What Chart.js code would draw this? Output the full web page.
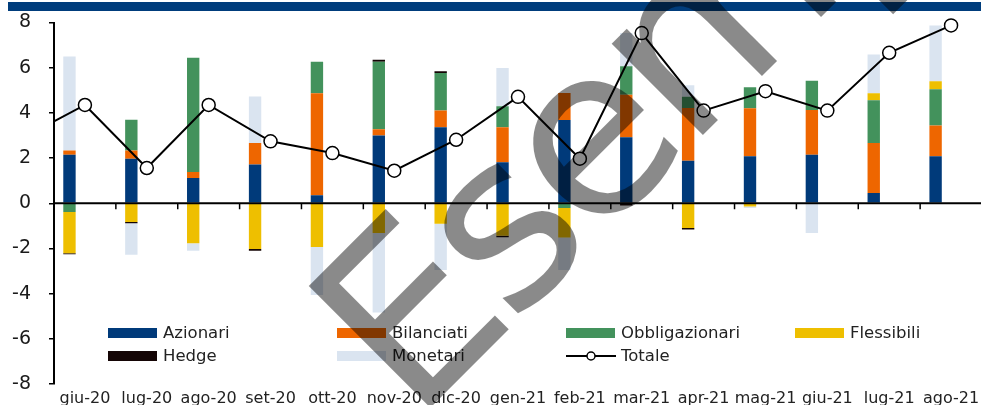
<!DOCTYPE html>
<html>
<head>
<meta charset="utf-8">
<script src="https://cdn.jsdelivr.net/npm/chart.js@4.4.1/dist/chart.umd.min.js"></script>
<style>
html, body { margin: 0; padding: 0; background: #fff; overflow: hidden; width: 981px; height: 405px; }
#band { position: absolute; left: 8px; top: 2px; width: 980px; height: 9px; background: #003d7c; }
#wrap { position: absolute; left: 0; top: 0; width: 990px; height: 412px; }
</style>
</head>
<body>
<div id="band"></div>
<div id="wrap"><canvas id="chart"></canvas></div>
<script>
// ================================
// DATA
// ================================
const months = ["giu-20", "lug-20", "ago-20", "set-20", "ott-20", "nov-20", "dic-20", "gen-21",
                "feb-21", "mar-21", "apr-21", "mag-21", "giu-21", "lug-21", "ago-21"];

const azionari       = [2.15, 1.97, 1.12, 1.72, 0.35, 3.00, 3.36, 1.81, 3.69, 2.92, 1.88, 2.08, 2.15, 0.45, 2.08];
const bilanciati     = [0.18, 0.36, 0.26, 0.95, 4.52, 0.27, 0.75, 1.55, 1.19, 1.88, 2.34, 2.12, 1.98, 2.22, 1.36];
const obbligazionari = [-0.39, 1.37, 5.06, 0, 1.39, 2.99, 1.66, 0.93, -0.21, 1.26, 0.49, 0.93, 1.29, 1.89, 1.61];
const flessibili     = [-1.82, -0.83, -1.77, -2.03, -1.94, -1.32, -0.91, -1.44, -1.31, 0, -1.10, -0.14, 0, 0.31, 0.35];
const hedge          = [-0.05, -0.05, 0, -0.07, 0, 0.09, 0.07, -0.06, 0, -0.10, -0.06, 0, 0, 0, 0];
const monetari       = [4.16, -1.40, -0.33, 2.05, -2.12, -3.52, -2.04, 1.70, -1.43, 1.48, 0.51, -0.07, -1.32, 1.71, 2.47];
const totale         = [4.35, 1.56, 4.35, 2.74, 2.22, 1.44, 2.81, 4.71, 1.97, 7.53, 4.10, 4.96, 4.10, 6.66, 7.87];
const totalePrev     = 2.9;   // mese precedente: la linea entra dal bordo sinistro

const yMin = -8, yMax = 8, yStep = 2;

const FONT = "'DejaVu Sans', sans-serif";

// ================================
// PLUGINS
// ================================
const zeroAxis = {
    id: "zeroAxis",
    afterDatasetsDraw(chart) {
        const { ctx, chartArea, scales } = chart;
        const y0 = scales.y.getPixelForValue(0);
        ctx.save();
        ctx.strokeStyle = "#000";
        ctx.lineWidth = 2;
        ctx.beginPath();
        ctx.moveTo(chartArea.left, y0);
        ctx.lineTo(chartArea.right, y0);
        ctx.stroke();
        ctx.lineWidth = 1.5;
        for (let i = 1; i < months.length; i++) {
            const x = (scales.x.getPixelForValue(i - 1) + scales.x.getPixelForValue(i)) / 2;
            ctx.beginPath();
            ctx.moveTo(x, y0);
            ctx.lineTo(x, y0 + 6);
            ctx.stroke();
        }
        ctx.restore();
    }
};

const innerLegend = {
    id: "innerLegend",
    afterDraw(chart) {
        const ctx = chart.ctx;
        ctx.save();
        ctx.font = "16.5px " + FONT;
        ctx.textBaseline = "middle";
        chart.data.datasets.forEach((ds, i) => {
            const x = 108 + (i % 4) * 229;
            const y = 333 + Math.floor(i / 4) * 23;
            if (ds.type === "line") {
                ctx.strokeStyle = "#000";
                ctx.lineWidth = 2;
                ctx.beginPath();
                ctx.moveTo(x, y);
                ctx.lineTo(x + 50, y);
                ctx.stroke();
                ctx.beginPath();
                ctx.arc(x + 25, y, 4, 0, Math.PI * 2);
                ctx.fillStyle = "#fff";
                ctx.fill();
                ctx.lineWidth = 1.5;
                ctx.stroke();
            } else {
                ctx.fillStyle = ds.backgroundColor;
                ctx.fillRect(x, y - 5, 49, 10);
            }
            ctx.fillStyle = "#222";
            ctx.fillText(ds.label, x + 55, y + 1);
        });
        ctx.restore();
    }
};

const watermark = {
    id: "watermark",
    afterDraw(chart) {
        const ctx = chart.ctx;
        ctx.save();
        ctx.translate(414, 424);
        ctx.rotate(-Math.PI / 4);
        ctx.font = "236px " + FONT;
        ctx.letterSpacing = "-10px";
        ctx.fillStyle = "rgba(0,0,0,0.46)";
        ctx.textBaseline = "alphabetic";
        ctx.fillText("Esempio", 0, 0);
        ctx.restore();
    }
};

// ================================
// CHART
// ================================
function bar(label, data, color) {
    return { type: "bar", label, data, backgroundColor: color, order: 1, stack: "s" };
}

const ctx = document.getElementById("chart").getContext("2d");

new Chart(ctx, {
    type: "bar",
    data: {
        labels: months,
        datasets: [
            bar("Azionari", azionari, "#003a7a"),
            bar("Bilanciati", bilanciati, "#ee6600"),
            bar("Obbligazionari", obbligazionari, "#43925c"),
            bar("Flessibili", flessibili, "#eebf00"),
            bar("Hedge", hedge, "#140505"),
            bar("Monetari", monetari, "#dae4f0"),
            {
                type: "line",
                label: "Totale",
                data: [{ x: -1, y: totalePrev }].concat(totale.map((v, i) => ({ x: i, y: v }))),
                xAxisID: "xl",
                order: 0,
                borderColor: "#000",
                borderWidth: 2,
                pointRadius: c => c.dataIndex === 0 ? 0 : 6.5,
                pointBackgroundColor: "#fff",
                pointBorderColor: "#000",
                pointBorderWidth: 1.5,
                clip: { left: 0, top: 14, right: 14, bottom: 0 },
                tension: 0
            }
        ]
    },
    options: {
        responsive: true,
        maintainAspectRatio: false,
        devicePixelRatio: 1,
        animation: false,
        layout: { padding: { top: 22.5, right: 4, bottom: 0, left: 0 } },
        datasets: { bar: { categoryPercentage: 1, barPercentage: 0.4 } },
        plugins: {
            legend: { display: false },
            tooltip: { enabled: false }
        },
        scales: {
            x: {
                stacked: true,
                offset: true,
                grid: { display: false, drawTicks: false },
                border: { display: false },
                ticks: { color: "#222", font: { family: FONT, size: 16 }, padding: 5, maxRotation: 0, autoSkip: false },
                afterFit: s => { s.height = 28; }
            },
            xl: {
                type: "linear",
                display: false,
                offset: false,
                grid: { offset: false },
                min: -0.5,
                max: months.length - 0.5
            },
            y: {
                stacked: true,
                min: yMin,
                max: yMax,
                ticks: { stepSize: yStep, color: "#1a1a1a", font: { family: FONT, size: 19 }, padding: 18 },
                grid: { drawOnChartArea: false, drawTicks: true, tickLength: 5, color: "#000", lineWidth: 1.5 },
                border: { display: true, color: "#000", width: 2 },
                afterFit: s => { s.width = 54; s.paddingTop = 0; s.paddingBottom = 0; }
            }
        }
    },
    plugins: [zeroAxis, innerLegend, watermark]
});
</script>
</body>
</html>
